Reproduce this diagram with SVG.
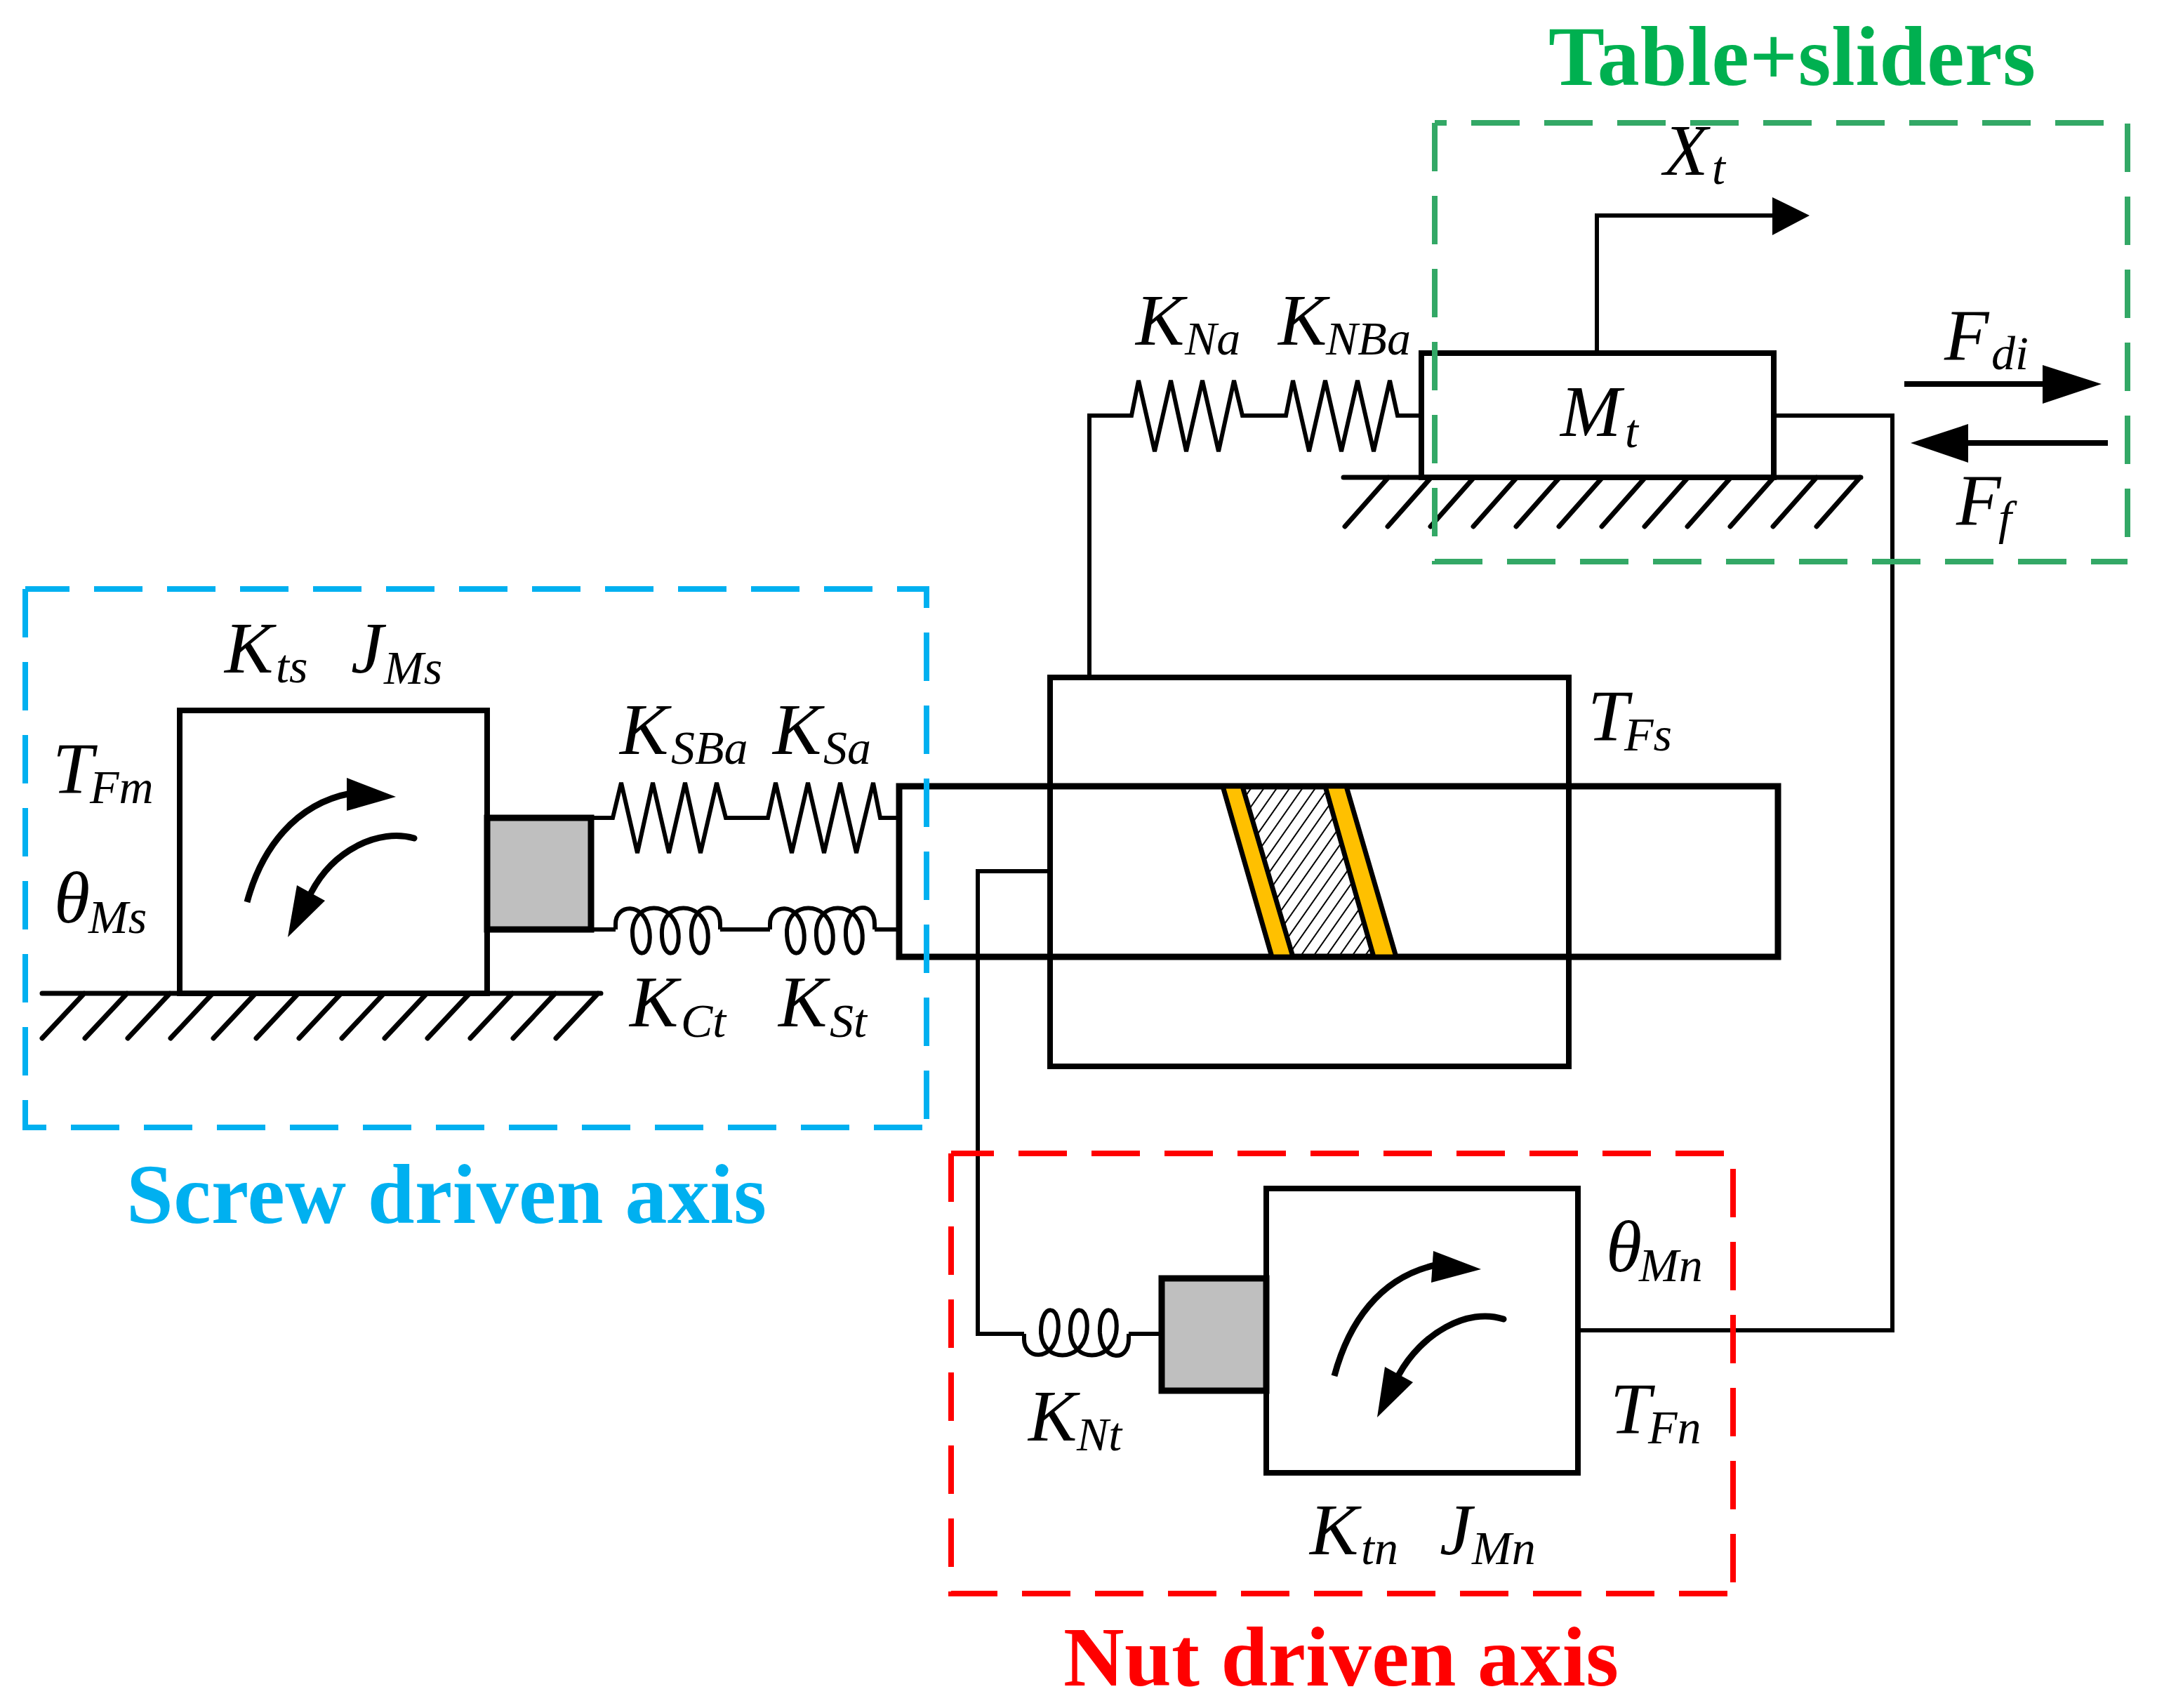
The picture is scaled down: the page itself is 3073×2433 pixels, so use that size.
<svg xmlns="http://www.w3.org/2000/svg" xmlns:xlink="http://www.w3.org/1999/xlink" width="3073" height="2433" viewBox="0 0 3073 2433">
<style>
.box{fill:#fff;stroke:#000;stroke-width:8}
.none{fill:none;stroke:#000;stroke-width:6;stroke-linejoin:miter}
.gnd{fill:none;stroke:#000;stroke-width:7;stroke-linecap:round}
.gray{fill:#bfbfbf;stroke:#000;stroke-width:9}
.head{fill:#000;stroke:none}
.frame{fill:none;stroke-width:8;stroke-dasharray:69 35}
text{font-family:"Liberation Serif","Times New Roman",serif}
.m{font-style:italic;font-size:104px;fill:#000}
.s{font-style:italic;font-size:68px;fill:#000}
.t{font-weight:bold;font-size:120px}
</style>
<defs>
<pattern id="hatch" width="15" height="15" patternUnits="userSpaceOnUse" patternTransform="rotate(35)"><line x1="4" y1="0" x2="4" y2="15" stroke="#000" stroke-width="2"/></pattern>
<path id="coil" class="none" d="M877,1324V1316C877,1288 917,1283 925,1325C931,1367 900,1370 901,1325C904,1283 958,1283 966,1325C972,1367 941,1370 943,1325C946,1283 1000,1283 1008,1325C1014,1367 983,1370 985,1325C988,1285 1026,1283 1026,1316V1324"/>
</defs>
<rect width="3073" height="2433" fill="#fff"/>

<g id="nut-body"><rect class="box" x="1496" y="965" width="739" height="554"/></g>

<g id="screw">
<rect x="1281" y="1120" width="1252" height="243" fill="none" stroke="#000" stroke-width="9"/>
<path d="M1496,1120V1363M2235,1120V1363" fill="none" stroke="#000" stroke-width="8"/>
<polygon points="1770,1120 1888,1120 1957,1363 1842,1363" fill="url(#hatch)"/>
<polygon points="1742,1120 1770,1120 1842,1363 1812,1363" fill="#ffc000" stroke="#000" stroke-width="7"/>
<polygon points="1888,1120 1918,1120 1989,1363 1957,1363" fill="#ffc000" stroke="#000" stroke-width="7"/>
</g>

<g id="connectors">
<path class="none" d="M842,1165H873L885,1115L908,1215L930,1115L953,1215L976,1115L998,1215L1021,1115L1034,1165H1094L1105,1115L1128,1215L1151,1115L1174,1215L1197,1115L1220,1215L1244,1115L1254,1165H1281"/>
<path class="none" d="M842,1324H877M1026,1324H1097M1246,1324H1281"/>
<use xlink:href="#coil" href="#coil"/>
<use xlink:href="#coil" href="#coil" transform="translate(220,0)"/>
<path class="none" d="M1496,1241H1393V1900H1459M1608,1900H1655"/>
<use xlink:href="#coil" href="#coil" transform="translate(582,3224) scale(1,-1)"/>
<path class="none" d="M1552,965V592H1612L1622,542L1645,643L1668,542L1690,643L1713,542L1736,643L1758,542L1770,592H1832L1842,542L1865,643L1888,542L1911,643L1934,542L1957,643L1980,542L1991,592H2025"/>
<path class="none" d="M2248,1895H2696V592H2527"/>
<path class="none" d="M2275,503V307H2530"/>
<polygon class="head" points="2525,281 2578,307 2525,335"/>
</g>

<g id="motor-screw">
<rect class="box" x="256" y="1012" width="438" height="403"/>
<path class="none" style="stroke-width:9" d="M352,1285C372,1210 420,1145 500,1130"/>
<polygon class="head" points="494,1108 564,1135 494,1155"/>
<path class="none" style="stroke-width:9;stroke-linecap:round" d="M590,1194C540,1180 475,1210 443,1272"/>
<polygon class="head" points="423,1261 463,1283 410,1335"/>
</g>
<g id="coupling-screw"><rect class="gray" x="694" y="1165" width="148" height="159"/></g>
<g id="ground-screw">
<path class="gnd" d="M60,1415H856M120,1415L60,1479M181,1415L121,1479M242,1415L182,1479M303,1415L243,1479M364,1415L304,1479M425,1415L365,1479M486,1415L426,1479M547,1415L487,1479M608,1415L548,1479M669,1415L609,1479M730,1415L670,1479M791,1415L731,1479M852,1415L792,1479"/>
</g>

<g id="motor-nut">
<rect class="box" x="1804" y="1693" width="444" height="405"/>
<path class="none" style="stroke-width:9" d="M1901,1960C1921,1885 1965,1820 2045,1802"/>
<polygon class="head" points="2042,1782 2110,1808 2039,1827"/>
<path class="none" style="stroke-width:9;stroke-linecap:round" d="M2142,1879C2090,1862 2025,1900 1993,1958"/>
<polygon class="head" points="1973,1947 2013,1969 1962,2019"/>
</g>
<g id="coupling-nut"><rect class="gray" x="1655" y="1821" width="149" height="160"/></g>

<g id="table">
<rect class="box" x="2025" y="503" width="502" height="177"/>
</g>
<g id="ground-table">
<path class="gnd" d="M1914,680H2651M1978,680L1916,750M2039,680L1977,750M2100,680L2038,750M2161,680L2099,750M2222,680L2160,750M2283,680L2221,750M2344,680L2282,750M2405,680L2343,750M2466,680L2404,750M2527,680L2465,750M2588,680L2526,750M2650,680L2588,750"/>
</g>
<g id="forces">
<path class="none" style="stroke-width:8" d="M2713,547H2915"/>
<polygon class="head" points="2910,520 2994,547 2910,575"/>
<path class="none" style="stroke-width:8" d="M3003,631H2800"/>
<polygon class="head" points="2804,604 2722,631 2804,659"/>
</g>

<g id="labels">
<text class="m" x="320" y="958">K</text><text class="s" x="393" y="972">ts</text>
<text class="m" x="500" y="958">J</text><text class="s" x="547" y="974">Ms</text>
<text class="m" x="75" y="1130">T</text><text class="s" x="128" y="1144">Fm</text>
<text class="m" x="77" y="1314">θ</text><text class="s" x="126" y="1329">Ms</text>
<text class="m" x="883" y="1074">K</text><text class="s" x="956" y="1088">SBa</text>
<text class="m" x="1101" y="1074">K</text><text class="s" x="1173" y="1088">Sa</text>
<text class="m" x="897" y="1462">K</text><text class="s" x="970" y="1477">Ct</text>
<text class="m" x="1109" y="1462">K</text><text class="s" x="1182" y="1477">St</text>
<text class="m" x="2262" y="1055">T</text><text class="s" x="2314" y="1069">Fs</text>
<text class="m" x="1618" y="491">K</text><text class="s" x="1688" y="505">Na</text>
<text class="m" x="1821" y="491">K</text><text class="s" x="1889" y="505">NBa</text>
<text class="m" x="2370" y="249">X</text><text class="s" x="2439" y="262">t</text>
<text class="m" x="2223" y="621">M</text><text class="s" x="2315" y="637">t</text>
<text class="m" x="2770" y="513">F</text><text class="s" x="2837" y="526">di</text>
<text class="m" x="2787" y="748">F</text><text class="s" x="2847" y="761">f</text>
<text class="m" x="1465" y="2052">K</text><text class="s" x="1534" y="2066">Nt</text>
<text class="m" x="1866" y="2214">K</text><text class="s" x="1939" y="2228">tn</text>
<text class="m" x="2051" y="2214">J</text><text class="s" x="2097" y="2228">Mn</text>
<text class="m" x="2288" y="1811">θ</text><text class="s" x="2335" y="1825">Mn</text>
<text class="m" x="2294" y="2042">T</text><text class="s" x="2348" y="2056">Fn</text>
</g>

<g id="frames">
<g id="frame-screw" stroke="#00b0f0">
<path class="frame" d="M36,839H1320V1606" stroke-dashoffset="6"/>
<path class="frame" d="M36,839V1606H1320"/>
</g>
<g id="frame-nut" stroke="#ff0000">
<path class="frame" d="M1355,1643H2469V2270" stroke-dashoffset="8"/>
<path class="frame" d="M1355,1643V2270H2469"/>
</g>
<g id="frame-table" stroke="#33a866">
<path class="frame" d="M2044,175H3031V800" stroke-dashoffset="52"/>
<path class="frame" d="M2044,175V800H3031"/>
</g>
</g>
<g id="titles">
<text class="t" x="2206" y="121" fill="#00b050" textLength="694">Table+sliders</text>
<text class="t" x="180" y="1742" fill="#00b0f0" textLength="912">Screw driven axis</text>
<text class="t" x="1515" y="2401" fill="#ff0000" textLength="791">Nut driven axis</text>
</g>
</svg>
